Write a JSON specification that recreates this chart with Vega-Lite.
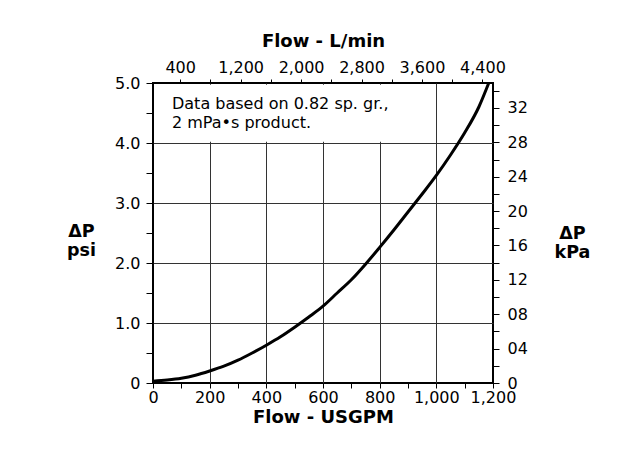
{
  "$schema": "https://vega.github.io/schema/vega-lite/v6.json",
  "width": 340,
  "height": 300,
  "autosize": {"type": "none"},
  "padding": {"left": 153, "top": 83, "right": 150, "bottom": 67},
  "background": "white",
  "config": {
    "font": "DejaVu Sans",
    "view": {"stroke": "#000000", "strokeWidth": 2},
    "axis": {
      "domain": false,
      "grid": false,
      "labelFont": "DejaVu Sans",
      "labelFontSize": 16,
      "labelColor": "#000000",
      "labelOverlap": false,
      "labelFlush": false,
      "labelBound": false,
      "tickColor": "#000000",
      "tickWidth": 1,
      "titleFont": "DejaVu Sans",
      "titleFontSize": 18,
      "titleFontWeight": "bold",
      "titleColor": "#000000"
    },
    "axisBottom": {
      "title": "Flow - USGPM",
      "values": [0, 50, 100, 150, 200, 250, 300, 350, 400, 450, 500, 550, 600, 650, 700, 750, 800, 850, 900, 950, 1000, 1050, 1100, 1150, 1200],
      "labelExpr": "datum.value % 200 === 0 ? format(datum.value, ',') : ''",
      "tickSize": 5,
      "labelPadding": 1,
      "titlePadding": 3
    },
    "axisLeft": {
      "titleAngle": 0,
      "titleAlign": "center",
      "titleBaseline": "middle",
      "titleFontSize": 17.5,
      "titleLineHeight": 19,
      "titleX": -72,
      "titleY": 148,
      "values": [0, 0.2, 0.4, 0.6, 0.8, 1, 1.2, 1.4, 1.6, 1.8, 2, 2.2, 2.4, 2.6, 2.8, 3, 3.2, 3.4, 3.6, 3.8, 4, 4.2, 4.4, 4.6, 4.8, 5],
      "labelExpr": "datum.value === 0 ? '0' : (abs(datum.value - round(datum.value)) < 0.001 ? format(datum.value, '.1f') : '')",
      "tickSize": 7,
      "labelPadding": 6
    }
  },
  "datasets": {
    "curve": [
      {"gpm": 0, "psi": 0.03},
      {"gpm": 50, "psi": 0.05},
      {"gpm": 100, "psi": 0.08},
      {"gpm": 150, "psi": 0.13},
      {"gpm": 200, "psi": 0.2},
      {"gpm": 250, "psi": 0.28},
      {"gpm": 300, "psi": 0.38},
      {"gpm": 350, "psi": 0.5},
      {"gpm": 400, "psi": 0.63},
      {"gpm": 450, "psi": 0.77},
      {"gpm": 500, "psi": 0.93},
      {"gpm": 550, "psi": 1.1},
      {"gpm": 600, "psi": 1.28},
      {"gpm": 650, "psi": 1.5},
      {"gpm": 700, "psi": 1.72},
      {"gpm": 750, "psi": 1.98},
      {"gpm": 800, "psi": 2.26},
      {"gpm": 850, "psi": 2.55},
      {"gpm": 900, "psi": 2.85},
      {"gpm": 950, "psi": 3.15},
      {"gpm": 1000, "psi": 3.46},
      {"gpm": 1050, "psi": 3.8},
      {"gpm": 1100, "psi": 4.17},
      {"gpm": 1150, "psi": 4.6},
      {"gpm": 1185, "psi": 5.0}
    ],
    "note": [
      {"text": "Data based on 0.82 sp. gr.,\n2 mPa•s product."}
    ]
  },
  "layer": [
    {
      "layer": [
        {
          "data": {"name": "note"},
          "mark": {"type": "rect", "color": "white"},
          "encoding": {
            "x": {"datum": 4, "type": "quantitative", "axis": {"orient": "bottom", "title": "Flow - USGPM"}},
            "x2": {"datum": 965},
            "y": {"datum": 4.02, "type": "quantitative", "axis": {"orient": "left", "title": ["ΔP", "psi"]}},
            "y2": {"datum": 4.97}
          }
        },
        {
          "data": {"name": "note"},
          "mark": {"type": "text", "align": "left", "baseline": "alphabetic", "fontSize": 16, "lineBreak": "\n", "lineHeight": 19, "color": "#000000", "font": "DejaVu Sans"},
          "encoding": {
            "x": {"datum": 67, "type": "quantitative", "axis": {"orient": "bottom", "title": "Flow - USGPM"}},
            "y": {"datum": 4.57, "type": "quantitative", "axis": {"orient": "left", "title": ["ΔP", "psi"]}},
            "text": {"field": "text"}
          }
        },
        {
          "data": {"name": "curve"},
          "mark": {"type": "line", "color": "#000000", "strokeWidth": 3, "interpolate": "monotone"},
          "encoding": {
            "x": {
              "field": "gpm",
              "type": "quantitative",
              "scale": {"domain": [0, 1200], "nice": false, "zero": false},
              "axis": {
                "orient": "bottom",
                "title": "Flow - USGPM",
                "grid": true,
                "gridColor": "#333333",
                "gridWidth": 1,
                "gridOpacity": {"condition": {"test": "datum.value % 200 === 0 && datum.value > 0 && datum.value < 1200", "value": 1}, "value": 0}
              }
            },
            "y": {
              "field": "psi",
              "type": "quantitative",
              "scale": {"domain": [0, 5], "nice": false, "zero": false},
              "axis": {
                "orient": "left",
                "title": ["ΔP", "psi"],
                "grid": true,
                "gridColor": "#333333",
                "gridWidth": 1,
                "gridOpacity": {"condition": {"test": "datum.value > 0.1 && datum.value < 4.9 && abs(datum.value - round(datum.value)) < 0.001", "value": 1}, "value": 0}
              }
            }
          }
        }
      ]
    },
    {
      "data": {"name": "note"},
      "mark": {"type": "point", "opacity": 0},
      "encoding": {
        "x": {
          "datum": 400,
          "type": "quantitative",
          "scale": {"domain": [40, 4540], "nice": false, "zero": false},
          "axis": {
            "orient": "top",
            "title": "Flow - L/min",
            "values": [400, 800, 1200, 1600, 2000, 2400, 2800, 3200, 3600, 4000, 4400],
            "labelExpr": "(datum.value - 400) % 800 === 0 ? format(datum.value, ',') : ''",
            "tickSize": 4,
            "labelPadding": 4,
            "titlePadding": 9
          }
        },
        "y": {
          "datum": 0,
          "type": "quantitative",
          "scale": {"domain": [0, 34.9], "nice": false, "zero": false},
          "axis": {
            "orient": "right",
            "title": ["ΔP", "kPa"],
            "titleAngle": 0,
            "titleAlign": "center",
            "titleBaseline": "middle",
            "titleFontSize": 17.5,
            "titleLineHeight": 19,
            "titleX": 79,
            "titleY": 150,
            "values": [0, 2, 4, 6, 8, 10, 12, 14, 16, 18, 20, 22, 24, 26, 28, 30, 32, 34],
            "labelExpr": "datum.value === 0 ? '0' : (datum.value % 4 === 0 ? format(datum.value, '02d') : '')",
            "tickSize": 6,
            "labelPadding": 8
          }
        }
      }
    }
  ],
  "resolve": {"scale": {"x": "independent", "y": "independent"}}
}
